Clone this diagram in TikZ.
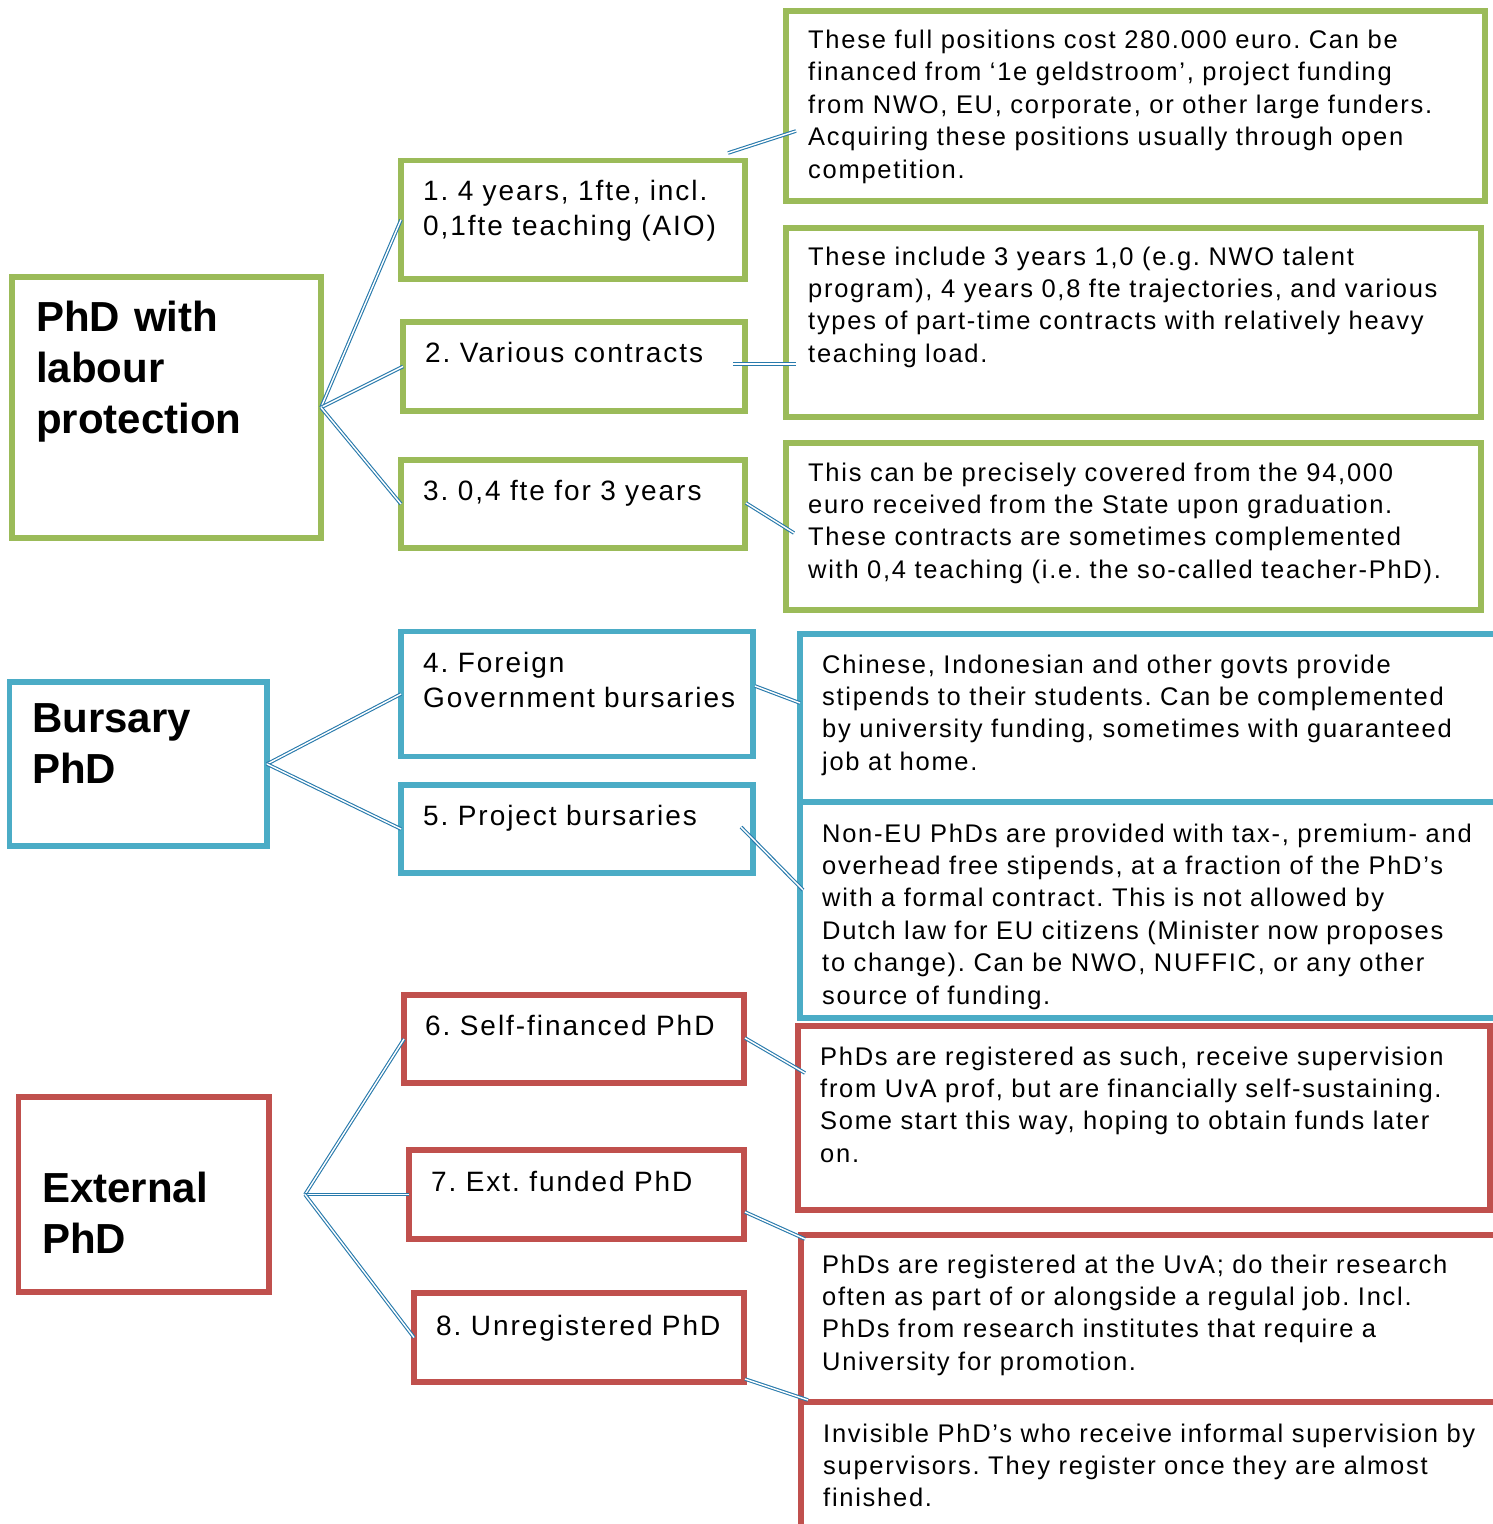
\documentclass[tikz,border=0pt]{standalone}
\usepackage{fontspec}
\setmainfont{Liberation Sans}
\newfontfamily\bodyf[LetterSpace=6.8]{Liberation Sans}
\newfontfamily\labf[LetterSpace=7]{Liberation Sans}
\newfontfamily\titf{Liberation Sans}
\definecolor{gr}{RGB}{155,187,89}
\definecolor{bl}{RGB}{75,172,198}
\definecolor{rd}{RGB}{192,80,77}
\definecolor{cn}{RGB}{40,122,172}
\begin{document}
\frenchspacing
\begin{tikzpicture}[x=1pt,y=-1pt,
  box/.style={draw, rectangle, line width=5.5pt, fill=white, inner sep=0pt, outer sep=0pt},
  gbox/.style={box, draw=gr},
  bbox/.style={box, draw=bl},
  rbox/.style={box, draw=rd},
  desc/.style={anchor=base west, inner sep=0pt, align=left, text width=690pt,
    font=\bodyf\frenchspacing\fontsize{25.5}{32.4}\selectfont},
  lab/.style={anchor=base west, inner sep=0pt, align=left, text width=340pt,
    font=\labf\frenchspacing\fontsize{28}{35.5}\selectfont},
  tit/.style={anchor=base west, inner sep=0pt, align=left, text width=300pt,
    font=\titf\bfseries\fontsize{42}{51}\selectfont},
  conn/.style={draw=cn, double=white, double distance=1.4pt, line width=1.1pt},
]
\clip (0,0) rectangle (1493,1524);
\fill[white] (0,0) rectangle (1493,1524);

% ---------- green group ----------
\node[gbox, minimum width=309pt, minimum height=261pt] (m1) at (166.5,407.5) {};
\node[gbox, minimum width=344pt, minimum height=118.5pt] (b1) at (573,219.75) {};
\node[gbox, minimum width=342pt, minimum height=89pt] (b2) at (574,366.5) {};
\node[gbox, minimum width=344pt, minimum height=88pt] (b3) at (573,504) {};
\node[gbox, minimum width=699pt, minimum height=190pt] (d1) at (1135.5,106) {};
\node[gbox, minimum width=695pt, minimum height=189pt] (d2) at (1133.5,322.5) {};
\node[gbox, minimum width=695pt, minimum height=167pt] (d3) at (1133.5,526.5) {};

% ---------- blue group ----------
\node[bbox, minimum width=257.5pt, minimum height=164pt] (m2) at (138.25,764) {};
\node[bbox, minimum width=352pt, minimum height=125pt] (b4) at (577,694) {};
\node[bbox, minimum width=352pt, minimum height=88pt] (b5) at (577,829) {};
\node[bbox, minimum width=710pt, minimum height=168pt] (d4) at (1155,718) {};
\node[bbox, minimum width=710pt, minimum height=216pt] (d5) at (1155,910) {};

% ---------- red group ----------
\node[rbox, minimum width=250.5pt, minimum height=195pt] (m3) at (143.75,1194.5) {};
\node[rbox, minimum width=340pt, minimum height=88pt] (b6) at (574,1039) {};
\node[rbox, minimum width=335pt, minimum height=89pt] (b7) at (576.5,1194.5) {};
\node[rbox, minimum width=330pt, minimum height=89pt] (b8) at (579,1337.5) {};
\node[rbox, minimum width=692pt, minimum height=184pt] (d6) at (1144,1118) {};
\node[rbox, minimum width=709pt, minimum height=167pt] (d7) at (1155.5,1318.5) {};
\node[rbox, minimum width=709pt, minimum height=138pt] (d8) at (1155.5,1471) {};

% ---------- titles ----------
\node[tit] (t1) at (36,331) {PhD with\\labour\\protection};
\node[tit] (t2) at (32,732) {Bursary\\PhD};
\node[tit] (t3) at (42,1202) {External\\PhD};

% ---------- labels ----------
\node[lab] (l1) at (423,200) {1. 4 years, 1fte, incl.\\0,1fte teaching (AIO)};
\node[lab] (l2) at (425,362) {2. Various contracts};
\node[lab] (l3) at (423,500) {3. 0,4 fte for 3 years};
\node[lab] (l4) at (423,672) {4. Foreign\\Government bursaries};
\node[lab] (l5) at (423,825) {5. Project bursaries};
\node[lab] (l6) at (425,1035) {6. Self-financed PhD};
\node[lab] (l7) at (431,1191) {7. Ext. funded PhD};
\node[lab] (l8) at (436,1335) {8. Unregistered PhD};

% ---------- descriptions ----------
\node[desc] (x1) at (808,48.5) {These full positions cost 280.000 euro. Can be\\
financed from ‘1e geldstroom’, project funding\\
from NWO, EU, corporate, or other large funders.\\
Acquiring these positions usually through open\\
competition.};
\node[desc] (x2) at (808,265) {These include 3 years 1,0 (e.g. NWO talent\\
program), 4 years 0,8 fte trajectories, and various\\
types of part-time contracts with relatively heavy\\
teaching load.};
\node[desc] (x3) at (808,481) {This can be precisely covered from the 94,000\\
euro received from the State upon graduation.\\
These contracts are sometimes complemented\\
with 0,4 teaching (i.e. the so-called teacher-PhD).};
\node[desc] (x4) at (822,673) {Chinese, Indonesian and other govts provide\\
stipends to their students. Can be complemented\\
by university funding, sometimes with guaranteed\\
job at home.};
\node[desc] (x5) at (822,842) {Non-EU PhDs are provided with tax-, premium- and\\
overhead free stipends, at a fraction of the PhD’s\\
with a formal contract. This is not allowed by\\
Dutch law for EU citizens (Minister now proposes\\
to change). Can be NWO, NUFFIC, or any other\\
source of funding.};
\node[desc] (x6) at (820,1065) {PhDs are registered as such, receive supervision\\
from UvA prof, but are financially self-sustaining.\\
Some start this way, hoping to obtain funds later\\
on.};
\node[desc] (x7) at (822,1273) {PhDs are registered at the UvA; do their research\\
often as part of or alongside a regulal job. Incl.\\
PhDs from research institutes that require a\\
University for promotion.};
\node[desc] (x8) at (823,1442) {Invisible PhD’s who receive informal supervision by\\
supervisors. They register once they are almost\\
finished.};

% ---------- connector end points ----------
\coordinate (fr) at (305,1194.5);
\coordinate (c1a) at (728,153);  \coordinate (c1b) at (796,131);
\coordinate (c2a) at (733,364);  \coordinate (c2b) at (796,364);
\coordinate (c3a) at (746,503);  \coordinate (c3b) at (794,533);
\coordinate (c4a) at (755,686);  \coordinate (c4b) at (800,703);
\coordinate (c5a) at (741,827);  \coordinate (c5b) at (803,890);
\coordinate (c6a) at (745,1038); \coordinate (c6b) at (805,1073);
\coordinate (c7a) at (745,1212); \coordinate (c7b) at (805,1239);
\coordinate (c8a) at (745,1379); \coordinate (c8b) at (808,1400);

% ---------- connectors ----------
\draw[conn] (m1.east) -- (b1.west);
\draw[conn] (m1.east) -- (b2.west);
\draw[conn] (m1.east) -- (b3.west);
\draw[conn] (m2.east) -- (b4.west);
\draw[conn] (m2.east) -- (b5.west);
\draw[conn] (fr) -- (b6.west);
\draw[conn] (fr) -- (b7.west);
\draw[conn] (fr) -- (b8.west);
\draw[conn] (c1a) -- (c1b);
\draw[conn] (c2a) -- (c2b);
\draw[conn] (c3a) -- (c3b);
\draw[conn] (c4a) -- (c4b);
\draw[conn] (c5a) -- (c5b);
\draw[conn] (c6a) -- (c6b);
\draw[conn] (c7a) -- (c7b);
\draw[conn] (c8a) -- (c8b);
\end{tikzpicture}
\end{document}
